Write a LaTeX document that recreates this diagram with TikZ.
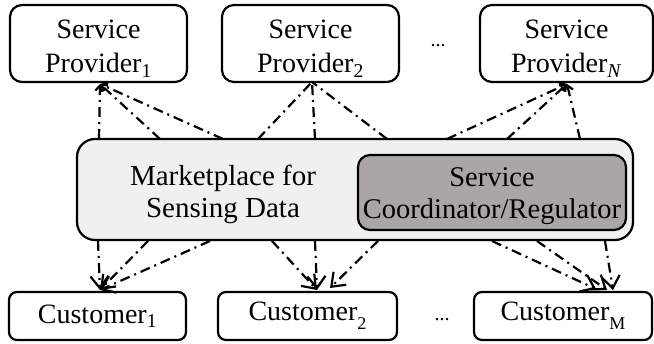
\documentclass[tikz,border=0pt]{standalone}
\usepackage{fontspec}
\setmainfont{Liberation Serif}
\usetikzlibrary{arrows.meta}
\definecolor{outerg}{RGB}{240,240,240}
\definecolor{innerg}{RGB}{170,166,166}
\newcommand{\lift}[1]{\rule{0pt}{#1}}
\begin{document}
\begin{tikzpicture}[x=1pt,y=-1pt,
  box/.style={draw,line width=2.2pt,rounded corners=12pt,align=center,inner sep=0pt,
    font=\fontsize{28}{34}\selectfont},
  cbox/.style={draw,line width=2.2pt,rounded corners=8pt,align=center,inner sep=0pt,
    font=\fontsize{28}{33}\selectfont},
  link/.style={line width=2.2pt,dash pattern=on 10pt off 5pt on 2pt off 5pt},
  up/.style={link,-{Straight Barb[length=5pt,width=9pt]}},
  down/.style={link,-{Straight Barb[length=12pt,width=18pt]}},
  dots/.style={font=\fontsize{20}{20}\selectfont}]
\useasboundingbox (0,0) rectangle (654,344);
% providers
\node[box,minimum width=177pt,minimum height=77pt] (sp1) at (98.5,43.5) {\lift{29pt}Service\\Provider\textsubscript{1}};
\node[box,minimum width=177pt,minimum height=77pt] (sp2) at (310.5,43.5) {\lift{29pt}Service\\Provider\textsubscript{2}};
\node[box,minimum width=173pt,minimum height=77pt] (spn) at (566.5,43.5) {\lift{29pt}Service\\Provider\textsubscript{\textit{N}}};
\node[dots] (d1) at (438,46) {...};
% marketplace
\node[draw,line width=2.2pt,rounded corners=18pt,fill=outerg,minimum width=556pt,minimum height=101pt,inner sep=0pt] (mp) at (355,189.5) {};
\node[font=\fontsize{29}{32}\selectfont,align=center] (mpt) at (223,194) {Marketplace for\\Sensing Data};
\node[draw,line width=2.2pt,rounded corners=12pt,fill=innerg,minimum width=268pt,minimum height=75pt,inner sep=0pt,align=center,
  font=\fontsize{28.5}{32}\selectfont] (sc) at (492,192.5) {\lift{27pt}Service\\Coordinator/Regulator};
% customers
\node[cbox,minimum width=177pt,minimum height=48pt] (c1) at (97.5,316) {Customer\textsubscript{1}};
\node[cbox,minimum width=179pt,minimum height=48pt] (c2) at (307.5,316) {Customer\raisebox{-0.7ex}{\fontsize{18}{18}\selectfont 2}};
\node[cbox,minimum width=178pt,minimum height=48pt] (cm) at (563,316) {Customer\raisebox{-0.7ex}{\fontsize{18}{18}\selectfont M}};
\node[dots] (d2) at (442,320) {...};
% anchor points on the marketplace border
\foreach \n/\x in {a1/99,a2/160,a3/223,b1/258,b2/315,b3/387,e1/447,e2/507,e3/580}
  \coordinate (\n) at (\x,139);
\foreach \n/\x in {f1/98,f2/148,f3/210,g1/272,g2/315,g3/378,h1/492,h2/537,h3/605}
  \coordinate (\n) at (\x,241);
% target points on the boxes
\coordinate (tp1) at (100,84);
\coordinate (tp2) at (312,82);
\coordinate (tpn) at (567,84);
\coordinate (tc1) at (100,290);
\coordinate (tc2) at (317,290);
\coordinate (tc2b) at (330,288);
\coordinate (tcm) at (596,289);
\coordinate (tcmb) at (607,290);
\coordinate (tcmc) at (613,290);
% upward links
\draw[up] (a1) -- (tp1);
\draw[up] (a2) -- (tp1);
\draw[up] (a3) -- (tp1);
\draw[link] (b1) -- (tp2);
\draw[link] (b2) -- (tp2);
\draw[link] (b3) -- (tp2);
\draw[up] (e1) -- (tpn);
\draw[up] (e2) -- (tpn);
\draw[up] (e3) -- (tpn);
% downward links
\draw[down] (f1) -- (tc1);
\draw[down] (f2) -- (tc1);
\draw[down] (f3) -- (tc1);
\draw[down] (g1) -- (tc2);
\draw[down] (g2) -- (tc2);
\draw[down] (g3) -- (tc2b);
\draw[down] (h1) -- (tcm);
\draw[down] (h2) -- (tcmb);
\draw[down] (h3) -- (tcmc);
\end{tikzpicture}
\end{document}
